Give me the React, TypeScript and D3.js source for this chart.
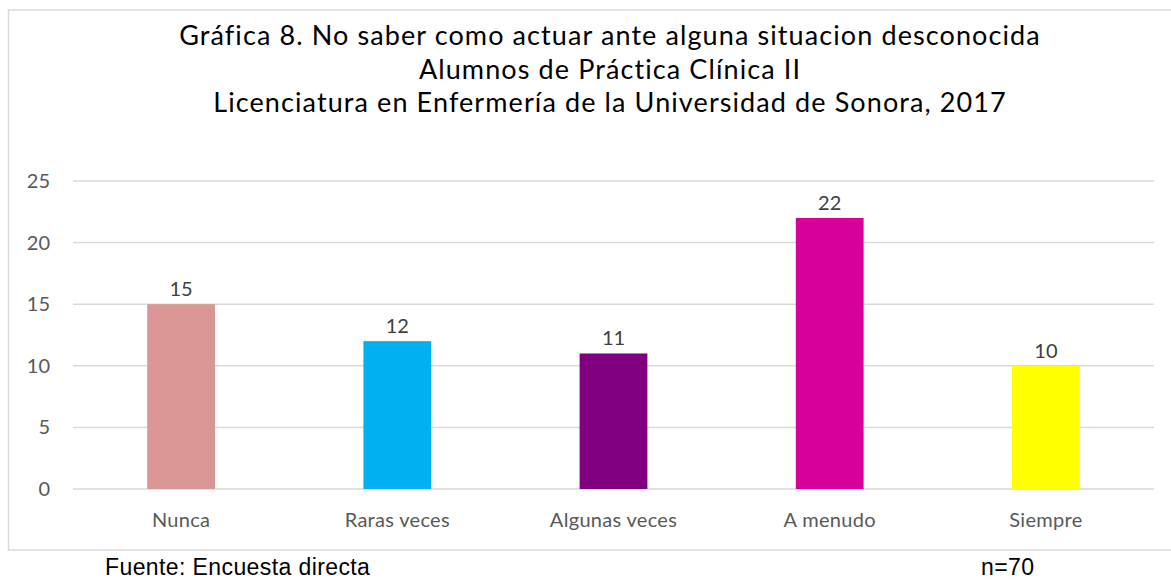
import { useEffect, useRef } from "react";
import * as d3 from "d3";

const categories = ["Nunca", "Raras veces", "Algunas veces", "A menudo", "Siempre"];
const values = [15, 12, 11, 22, 10];
const colors = ["#D99694", "#00B0F0", "#800080", "#D8009A", "#FFFF00"];
const yTicks = [0, 5, 10, 15, 20, 25];
const titleLines = [
  "Gráfica 8. No saber como actuar ante alguna situacion desconocida",
  "Alumnos de Práctica Clínica II",
  "Licenciatura en Enfermería de la Universidad de Sonora, 2017",
];
const sourceText = "Fuente: Encuesta directa";
const sampleText = "n=70";

export default function App() {
  const ref = useRef<SVGSVGElement>(null);

  useEffect(() => {
    if (!ref.current) return;
    const svg = d3.select(ref.current);
    svg.selectAll("*").remove();

    const width = 1171;
    const height = 580;
    const plot = { left: 73, right: 1154, top: 181, bottom: 489 };
    const font = "Lato, 'Open Sans', sans-serif";

    // chart area frame
    svg
      .append("rect")
      .attr("x", 8.5)
      .attr("y", 10)
      .attr("width", 1220)
      .attr("height", 540)
      .attr("fill", "#fff")
      .attr("stroke", "#D9D9D9")
      .attr("stroke-width", 1.5);

    // title
    svg
      .append("g")
      .selectAll("text")
      .data(titleLines)
      .join("text")
      .attr("x", 610)
      .attr("y", (_, i) => 45 + i * 33.5)
      .attr("text-anchor", "middle")
      .style("font-family", font)
      .style("font-size", "27px")
      .style("letter-spacing", "1.1px")
      .attr("fill", "#000")
      .text((d) => d);

    const x = d3
      .scaleBand()
      .domain(categories)
      .range([plot.left, plot.right])
      .paddingInner(0.6865)
      .paddingOuter(0.6865 / 2);

    const y = d3.scaleLinear().domain([0, 25]).range([plot.bottom, plot.top]);

    // gridlines
    svg
      .append("g")
      .selectAll("line")
      .data(yTicks)
      .join("line")
      .attr("x1", plot.left)
      .attr("x2", plot.right)
      .attr("y1", (d) => y(d))
      .attr("y2", (d) => y(d))
      .attr("stroke", "#D9D9D9")
      .attr("stroke-width", 1.5);

    // y tick labels
    svg
      .append("g")
      .selectAll("text")
      .data(yTicks)
      .join("text")
      .attr("x", 50)
      .attr("y", (d) => y(d))
      .attr("dy", "0.35em")
      .attr("text-anchor", "end")
      .style("font-family", font)
      .style("font-size", "20px")
      .attr("fill", "#595959")
      .text((d) => d);

    // bars
    svg
      .append("g")
      .selectAll("rect")
      .data(values)
      .join("rect")
      .attr("x", (_, i) => x(categories[i]) || 0)
      .attr("y", (d) => y(d))
      .attr("width", x.bandwidth())
      .attr("height", (d) => y(0) - y(d))
      .attr("fill", (_, i) => colors[i]);

    // value labels
    svg
      .append("g")
      .selectAll("text")
      .data(values)
      .join("text")
      .attr("x", (_, i) => (x(categories[i]) || 0) + x.bandwidth() / 2)
      .attr("y", (d) => y(d) - 8)
      .attr("text-anchor", "middle")
      .style("font-family", font)
      .style("font-size", "20px")
      .attr("fill", "#404040")
      .text((d) => d);

    // category labels
    svg
      .append("g")
      .selectAll("text")
      .data(categories)
      .join("text")
      .attr("x", (d) => (x(d) || 0) + x.bandwidth() / 2)
      .attr("y", 527)
      .attr("text-anchor", "middle")
      .style("font-family", font)
      .style("font-size", "20px")
      .style("letter-spacing", "0.3px")
      .attr("fill", "#595959")
      .text((d) => d);

    // footer
    svg
      .append("text")
      .attr("x", 105)
      .attr("y", 575)
      .style("font-family", "'Liberation Sans', Arial, sans-serif")
      .style("font-size", "23px")
      .style("letter-spacing", "0.4px")
      .attr("fill", "#000")
      .text(sourceText);

    svg
      .append("text")
      .attr("x", 981)
      .attr("y", 575)
      .style("font-family", "'Liberation Sans', Arial, sans-serif")
      .style("font-size", "23px")
      .style("letter-spacing", "0.4px")
      .attr("fill", "#000")
      .text(sampleText);

    svg.attr("width", width).attr("height", height);
  }, []);

  return (
    <div style={{ position: "absolute", left: 0, top: 0 }}>
      <svg ref={ref} style={{ display: "block", background: "#fff" }}></svg>
    </div>
  );
}
